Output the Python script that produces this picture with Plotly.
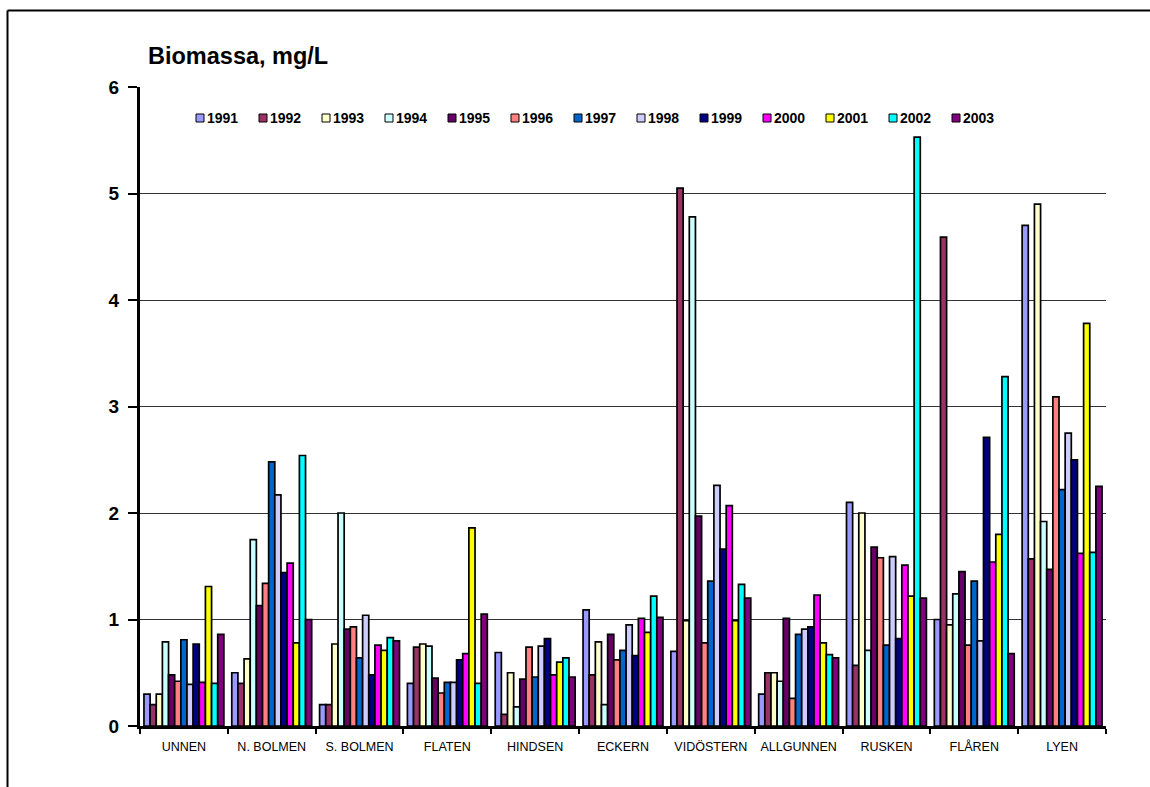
import plotly.graph_objects as go

# Lakes (x categories) and sampling years (series)
lakes = ["UNNEN", "N. BOLMEN", "S. BOLMEN", "FLATEN", "HINDSEN", "ECKERN",
         "VIDÖSTERN", "ALLGUNNEN", "RUSKEN", "FLÅREN", "LYEN"]
years = ["1991", "1992", "1993", "1994", "1995", "1996", "1997",
         "1998", "1999", "2000", "2001", "2002", "2003"]

# Biomass, mg/L, one list per year in lake order
b1991 = [0.30, 0.50, 0.20, 0.40, 0.69, 1.09, 0.70, 0.30, 2.10, 1.00, 4.70]
b1992 = [0.20, 0.40, 0.20, 0.74, 0.11, 0.48, 5.05, 0.50, 0.57, 4.59, 1.57]
b1993 = [0.30, 0.63, 0.77, 0.77, 0.50, 0.79, 0.99, 0.50, 2.00, 0.95, 4.90]
b1994 = [0.79, 1.75, 2.00, 0.75, 0.18, 0.20, 4.78, 0.42, 0.71, 1.24, 1.92]
b1995 = [0.48, 1.13, 0.91, 0.45, 0.44, 0.86, 1.97, 1.01, 1.68, 1.45, 1.47]
b1996 = [0.42, 1.34, 0.93, 0.31, 0.74, 0.62, 0.78, 0.26, 1.58, 0.76, 3.09]
b1997 = [0.81, 2.48, 0.64, 0.41, 0.46, 0.71, 1.36, 0.86, 0.76, 1.36, 2.22]
b1998 = [0.39, 2.17, 1.04, 0.41, 0.75, 0.95, 2.26, 0.91, 1.59, 0.80, 2.75]
b1999 = [0.77, 1.44, 0.48, 0.62, 0.82, 0.66, 1.66, 0.93, 0.82, 2.71, 2.50]
b2000 = [0.41, 1.53, 0.76, 0.68, 0.48, 1.01, 2.07, 1.23, 1.51, 1.54, 1.62]
b2001 = [1.31, 0.78, 0.71, 1.86, 0.60, 0.88, 0.99, 0.78, 1.22, 1.80, 3.78]
b2002 = [0.40, 2.54, 0.83, 0.40, 0.64, 1.22, 1.33, 0.67, 5.53, 3.28, 1.63]
b2003 = [0.86, 1.00, 0.80, 1.05, 0.46, 1.02, 1.20, 0.64, 1.20, 0.68, 2.25]

series = [b1991, b1992, b1993, b1994, b1995, b1996, b1997,
          b1998, b1999, b2000, b2001, b2002, b2003]
colors = ["#9999FF", "#993366", "#FFFFCC", "#CCFFFF", "#660066", "#FF8080",
          "#0066CC", "#CCCCFF", "#000080", "#FF00FF", "#FFFF00", "#00FFFF",
          "#800080"]

FONT = "Liberation Sans, Arial, sans-serif"
W, H = 1150, 787
ML, MR, MT, MB = 140, 44, 87, 61
PW, PH = W - ML - MR, H - MT - MB


def px(x):
    return (x - ML) / PW


def py(y):
    return (H - MB - y) / PH


fig = go.Figure()
for yr, vals, col in zip(years, series, colors):
    fig.add_trace(go.Bar(
        name=yr, x=lakes, y=vals,
        marker=dict(color=col, line=dict(color="black", width=1.7)),
        showlegend=False,
    ))

shapes = []
annotations = []

# Legend row: small framed swatch followed by the year
for i, (yr, col) in enumerate(zip(years, colors)):
    x0 = 196 + 63 * i
    shapes.append(dict(
        type="rect", xref="paper", yref="paper",
        x0=px(x0), x1=px(x0 + 8), y0=py(122), y1=py(114),
        fillcolor=col, line=dict(color="black", width=1),
    ))
    annotations.append(dict(
        text=yr, xref="paper", yref="paper", x=px(x0 + 9), y=py(118),
        xanchor="left", yanchor="middle", showarrow=False,
        font=dict(family=FONT, size=14, color="black", weight="bold"),
    ))

# Chart title in the top-left corner
annotations.append(dict(
    text="<b>Biomassa, mg/L</b>", xref="paper", yref="paper",
    x=px(146), y=py(56), xanchor="left", yanchor="middle", showarrow=False,
    font=dict(family=FONT, size=23.5, color="black"),
))

# Outer chart-area frame: top and left edges
shapes.append(dict(
    type="line", xref="paper", yref="paper", layer="above",
    x0=px(7.5), x1=px(W + 5), y0=py(10.5), y1=py(10.5),
    line=dict(color="black", width=2),
))
shapes.append(dict(
    type="line", xref="paper", yref="paper", layer="above",
    x0=px(7.5), x1=px(7.5), y0=py(10.5), y1=py(H + 5),
    line=dict(color="black", width=2),
))

fig.update_layout(
    width=W, height=H,
    margin=dict(l=ML, r=MR, t=MT, b=MB, pad=0),
    paper_bgcolor="white", plot_bgcolor="white",
    barmode="group", bargap=0.09, bargroupgap=0,
    font=dict(family=FONT, color="black"),
    shapes=shapes, annotations=annotations,
    showlegend=False,
)

fig.update_xaxes(
    type="category", showline=True, linecolor="black", linewidth=3,
    ticks="outside", tickson="boundaries", ticklen=5, tickwidth=2,
    tickcolor="black", showgrid=False, tickangle=0, automargin=False,
    ticklabelstandoff=7,
    tickfont=dict(family=FONT, size=12.5, color="black"),
)
fig.update_yaxes(
    range=[0, 6], dtick=1, tick0=0,
    showline=True, linecolor="black", linewidth=3,
    ticks="outside", ticklen=9, tickwidth=2, tickcolor="black",
    showgrid=True, gridcolor="#333333", gridwidth=1,
    zeroline=False, ticklabelstandoff=5, automargin=False,
    tickfont=dict(family=FONT, size=19, color="black", weight="bold"),
)

fig.write_html("out.html")
